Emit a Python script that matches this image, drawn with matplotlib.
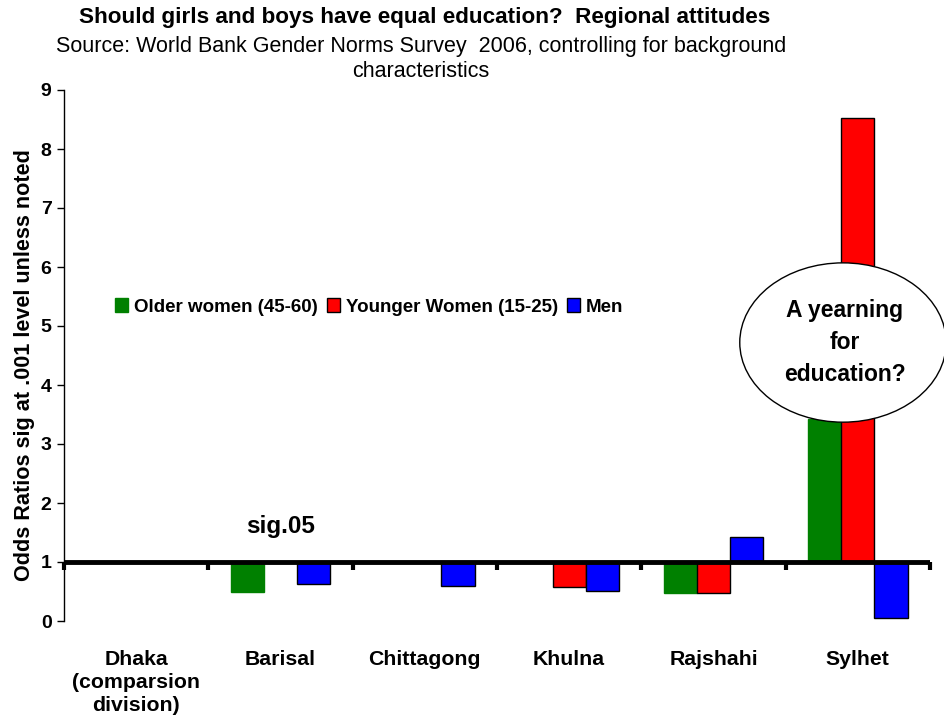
import matplotlib
matplotlib.use("Agg")
import matplotlib.pyplot as plt
from matplotlib.patches import Ellipse
import numpy as np

plt.rcParams['font.family'] = ['Liberation Sans', 'DejaVu Sans']

categories = ["Dhaka\n(comparsion\ndivision)", "Barisal", "Chittagong", "Khulna", "Rajshahi", "Sylhet"]
series_names = ["Older women (45-60)", "Younger Women (15-25)", "Men"]
older_women = [1.0, 0.50, 1.0, 1.0, 0.48, 3.42]
younger_women = [1.0, 1.0, 1.0, 0.57, 0.48, 8.52]
men = [1.0, 0.62, 0.60, 0.51, 1.42, 0.05]
colors = ["#008000", "#FF0000", "#0000FF"]
edges = ["#008000", "black", "black"]
baseline = 1.0

fig = plt.figure(figsize=(9.44, 7.19), dpi=100)
ax = fig.add_axes([64/944, 1-621/719, 866/944, 531/719])

x = np.arange(len(categories))
w = 0.23
for i, (vals, name) in enumerate(zip([older_women, younger_women, men], series_names)):
    v = np.array(vals)
    ax.bar(x + (i-1)*w, v - baseline, bottom=baseline, width=w, color=colors[i],
           edgecolor=edges[i], linewidth=1.0, label=name, zorder=2)

ax.set_xlim(-0.5, len(categories)-0.5)
ax.set_ylim(0, 9)
ax.set_yticks(range(0, 10))
ax.tick_params(axis='y', direction='out', length=5, width=1, labelsize=14, pad=4)
for lab in ax.get_yticklabels():
    lab.set_fontweight('bold')
ax.set_xticks(x)
ax.set_xticklabels(categories, fontsize=15.3, fontweight='bold', linespacing=1.25, va='top')
ax.tick_params(axis='x', length=0, pad=21)

for s in ['top', 'right', 'bottom']:
    ax.spines[s].set_visible(False)
ax.spines['left'].set_linewidth(1.0)

# baseline axis line at 1 with tick marks
ax.axhline(baseline, color='black', linewidth=3.5, zorder=3)
bounds = np.arange(-0.5, len(categories)+0.5, 1.0)
ax.vlines(bounds, baseline-0.13, baseline, color='black', linewidth=3, zorder=3, clip_on=False)

fig.text(25/944, 1-365/719, "Odds Ratios sig at .001 level unless noted", fontsize=15.6,
         fontweight='bold', rotation=90, ha='center', va='center')

ax.text(1.0, 1.6, "sig.05", fontsize=17.5, fontweight='bold', ha='center', va='center')

ell = Ellipse((4.897, 4.72), 1.43, 2.7, facecolor='white', edgecolor='black',
              linewidth=1.0, zorder=4, clip_on=False)
ax.add_patch(ell)
ax.text(4.91, 4.72, "A yearning\nfor\neducation?", fontsize=16.5, fontweight='bold',
        ha='center', va='center', linespacing=1.5, zorder=5)

leg = ax.legend(loc='center', bbox_to_anchor=(369/944, 1-307/719), bbox_transform=fig.transFigure,
                ncol=3, frameon=False, handlelength=0.7, handleheight=0.7, handletextpad=0.3,
                columnspacing=0.5, prop={'weight': 'bold', 'size': 13.5})

fig.text(425/944, 1-18/719, "Should girls and boys have equal education?  Regional attitudes",
         fontsize=16.2, fontweight='bold', ha='center', va='center')
fig.text(421/944, 1-59/719, "Source: World Bank Gender Norms Survey  2006, controlling for background\ncharacteristics",
         fontsize=15.5, ha='center', va='center', linespacing=1.22)

fig.savefig("out.png", dpi=100)
